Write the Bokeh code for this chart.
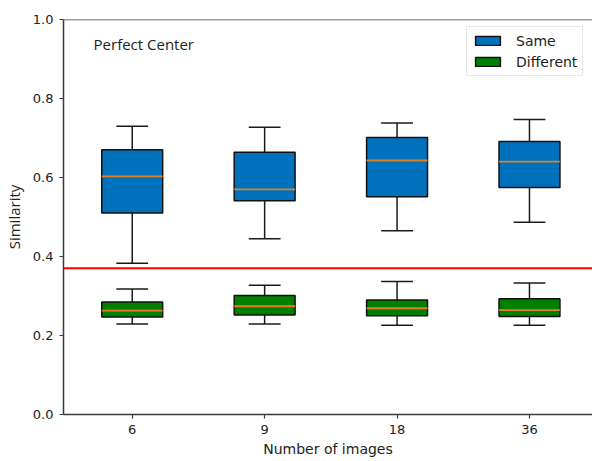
from bokeh.plotting import figure
from bokeh.models import Span, Label, FixedTicker, PrintfTickFormatter, Range1d, ColumnDataSource
from bokeh.embed import file_html
from bokeh.resources import INLINE

# ---- data ----
categories = ["6", "9", "18", "36"]
y_ticks = [0.0, 0.2, 0.4, 0.6, 0.8, 1.0]

same_lower = [0.383, 0.445, 0.465, 0.487]
same_q1 = [0.510, 0.541, 0.551, 0.575]
same_median = [0.603, 0.570, 0.643, 0.640]
same_q3 = [0.670, 0.664, 0.701, 0.691]
same_upper = [0.730, 0.727, 0.738, 0.747]

diff_lower = [0.229, 0.229, 0.226, 0.226]
diff_q1 = [0.247, 0.252, 0.250, 0.248]
diff_median = [0.263, 0.274, 0.269, 0.264]
diff_q3 = [0.285, 0.301, 0.290, 0.293]
diff_upper = [0.318, 0.327, 0.337, 0.333]

threshold = 0.370

# ---- style ----
BOX_W = 0.46
CAP_W = 0.24
AXIS_COLOR = "#3a3a3a"
TEXT_COLOR = "#222222"

positions = list(range(1, len(categories) + 1))

p = figure(width=592, height=461, output_backend="svg", toolbar_location=None,
           title=None, x_range=Range1d(0.481, 4.476), y_range=Range1d(0, 1),
           min_border_left=63, min_border_right=0, min_border_top=19,
           min_border_bottom=47)
p.outline_line_color = None
p.grid.visible = False


def draw_boxes(lower, q1, med, q3, upper, color, label):
    src = ColumnDataSource(dict(
        x=positions, lower=lower, q1=q1, med=med, q3=q3, upper=upper,
        cl=[x - CAP_W / 2 for x in positions], cr=[x + CAP_W / 2 for x in positions],
        bl=[x - BOX_W / 2 for x in positions], br=[x + BOX_W / 2 for x in positions],
    ))
    p.segment(x0="x", y0="q3", x1="x", y1="upper", source=src, line_color="#1a1a1a", line_width=1.5)
    p.segment(x0="x", y0="q1", x1="x", y1="lower", source=src, line_color="#1a1a1a", line_width=1.5)
    p.segment(x0="cl", y0="upper", x1="cr", y1="upper", source=src, line_color="#1a1a1a", line_width=1.5)
    p.segment(x0="cl", y0="lower", x1="cr", y1="lower", source=src, line_color="#1a1a1a", line_width=1.5)
    p.vbar(x="x", bottom="q1", top="q3", width=BOX_W, source=src, fill_color=color,
           line_color="#111111", line_width=1.5, legend_label=label)
    p.segment(x0="bl", y0="med", x1="br", y1="med", source=src, line_color="#e07f26", line_width=1.8)


draw_boxes(same_lower, same_q1, same_median, same_q3, same_upper, "#0072bd", "Same")
draw_boxes(diff_lower, diff_q1, diff_median, diff_q3, diff_upper, "#008000", "Different")

p.add_layout(Span(location=threshold, dimension="width", line_color="#ff0000", line_width=2))
p.add_layout(Span(location=y_ticks[-1], dimension="width", line_color=AXIS_COLOR, line_width=1.5))

p.add_layout(Label(x=0.708, y=0.937, text="Perfect Center", text_font="Open Sans",
                   text_font_size="15px", text_color=TEXT_COLOR, text_baseline="middle"))

# axes
p.xaxis.ticker = FixedTicker(ticks=positions)
p.xaxis.major_label_overrides = {x: c for x, c in zip(positions, categories)}
p.yaxis.ticker = FixedTicker(ticks=y_ticks)
p.yaxis.formatter = PrintfTickFormatter(format="%.1f")
for ax in (p.xaxis, p.yaxis):
    ax.axis_line_color = AXIS_COLOR
    ax.axis_line_width = 1.5
    ax.major_tick_line_color = AXIS_COLOR
    ax.major_tick_line_width = 1.2
    ax.major_tick_out = 4
    ax.major_tick_in = 0
    ax.minor_tick_line_color = None
    ax.major_label_text_font = "DejaVu Sans"
    ax.major_label_text_font_size = "13px"
    ax.major_label_text_color = TEXT_COLOR
    ax.major_label_standoff = 6
    ax.axis_label_text_font_style = "normal"
    ax.axis_label_text_color = TEXT_COLOR

p.xaxis.axis_label = "Number of images"
p.xaxis.axis_label_text_font = "DejaVu Sans"
p.xaxis.axis_label_text_font_size = "14px"
p.xaxis.axis_label_standoff = 4

p.yaxis.axis_label = "Similarity"
p.yaxis.axis_label_text_font = "Open Sans"
p.yaxis.axis_label_text_font_size = "15px"
p.yaxis.axis_label_standoff = 6

# legend
lg = p.legend[0]
lg.location = (403, 338)
lg.margin = 0
lg.padding = 5
lg.spacing = 4
lg.glyph_width = 31
lg.glyph_height = 11
lg.label_height = 17
lg.label_standoff = 13
lg.label_text_font = "DejaVu Sans"
lg.label_text_font_size = "14px"
lg.label_text_color = TEXT_COLOR
lg.border_line_color = "#d0d0d0"
lg.border_line_width = 1
lg.background_fill_alpha = 0.85

open("out.html", "w").write(file_html(p, INLINE))
